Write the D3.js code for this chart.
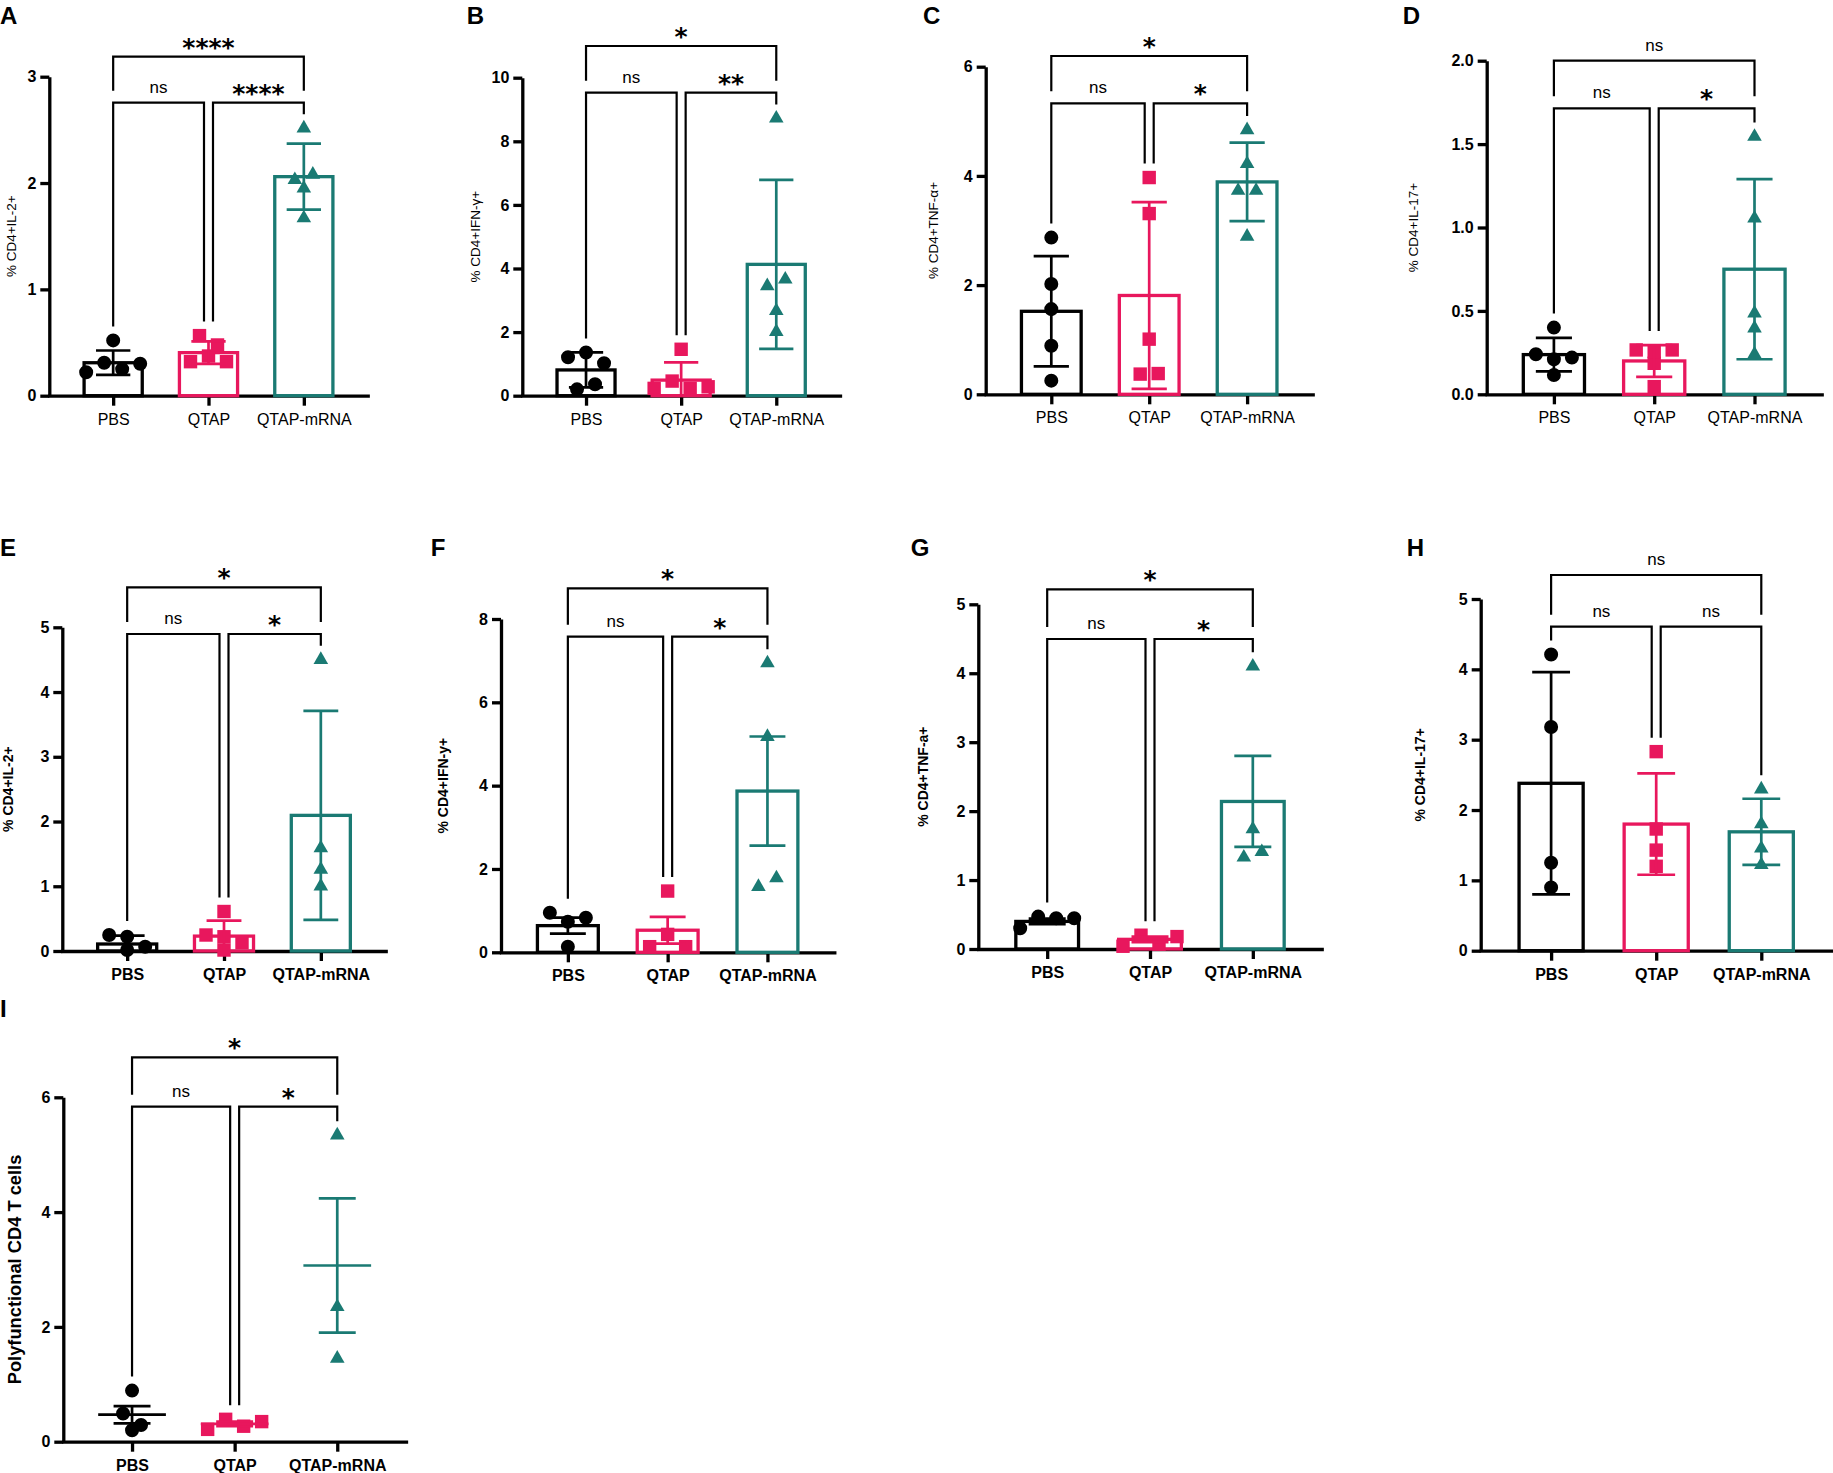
<!DOCTYPE html>
<html>
<head>
<meta charset="utf-8">
<script src="https://cdn.jsdelivr.net/npm/d3@7"></script>
<style>
  body { margin: 0; background: #fff; }
  svg { display: block; }
</style>
</head>
<body>
<script>
// groups + colours
const groups = ["PBS", "QTAP", "QTAP-mRNA"]
const colors = ["#000000", "#e8175d", "#1a7a73"]

// A - % CD4+IL-2+
const ptsA = [[0.52, 0.22, 0.31, 0.25, 0.30], [0.565, 0.32, 0.373, 0.477, 0.32], [2.515, 2.03, 2.08, 1.95, 1.67]]
const meanA = [0.31, 0.405, 2.06]
const errA = [0.115, 0.105, 0.31]
const ticksA = [0, 1, 2, 3]
const sigA = ["****", "ns", "****"]

// B - % CD4+IFN-γ+
const ptsB = [[1.21, 1.36, 1.02, 0.20, 0.36], [1.46, 0.23, 0.46, 0.23, 0.28], [8.72, 3.45, 3.66, 2.67, 2.01]]
const meanB = [0.81, 0.49, 4.13]
const errB = [0.55, 0.56, 2.66]
const ticksB = [0, 2, 4, 6, 8, 10]
const sigB = ["*", "ns", "**"]

// C - % CD4+TNF-α+
const ptsC = [[2.87, 2.02, 1.56, 0.89, 0.25], [3.97, 3.31, 1.01, 0.37, 0.38], [4.84, 4.22, 3.73, 3.73, 2.89]]
const meanC = [1.52, 1.81, 3.89]
const errC = [1.01, 1.71, 0.72]
const ticksC = [0, 2, 4, 6]
const sigC = ["*", "ns", "*"]

// D - % CD4+IL-17+
const ptsD = [[0.40, 0.24, 0.21, 0.22, 0.116], [0.266, 0.186, 0.256, 0.266, 0.046], [1.545, 1.055, 0.486, 0.396, 0.24]]
const meanD = [0.238, 0.20, 0.75]
const errD = [0.10, 0.095, 0.54]
const ticksD = [0, 0.5, 1, 1.5, 2]
const sigD = ["ns", "ns", "*"]

// E - % CD4+IL-2+
const ptsE = [[0.247, 0.22, 0.066, 0.015], [0.61, 0.247, 0.015, 0.22, 0.128], [4.5, 1.59, 1.26, 1.0]]
const meanE = [0.108, 0.23, 2.095]
const errE = [0.128, 0.24, 1.615]
const ticksE = [0, 1, 2, 3, 4, 5]
const sigE = ["*", "ns", "*"]

// F - % CD4+IFN-y+
const ptsF = [[0.95, 0.735, 0.83, 0.135], [1.47, 0.135, 0.43, 0.135], [6.94, 5.175, 1.575, 1.78]]
const meanF = [0.64, 0.53, 3.87]
const errF = [0.19, 0.32, 1.31]
const ticksF = [0, 2, 4, 6, 8]
const sigF = ["*", "ns", "*"]

// G - % CD4+TNF-a+
const ptsG = [[0.30, 0.47, 0.445, 0.445], [0.04, 0.2, 0.07, 0.18], [4.10, 1.74, 1.33, 1.41]]
const meanG = [0.40, 0.14, 2.14]
const errG = [0.04, 0.04, 0.66]
const ticksG = [0, 1, 2, 3, 4, 5]
const sigG = ["*", "ns", "*"]

// H - % CD4+IL-17+
const ptsH = [[4.21, 3.18, 1.25, 0.90], [2.83, 1.73, 1.43, 1.20], [2.295, 1.80, 1.455, 1.22]]
const meanH = [2.38, 1.80, 1.69]
const errH = [1.58, 0.72, 0.47]
const ticksH = [0, 1, 2, 3, 4, 5]
const sigH = ["ns", "ns", "ns"]

// I - polyfunctional (scatter, mean +/- SEM, no bars)
const ptsI = [[0.89, 0.49, 0.29, 0.20], [0.215, 0.39, 0.27, 0.35], [5.34, 2.35, 1.45]]
const meanI = [0.47, 0.31, 3.07]
const errI = [0.15, 0.04, 1.17]
const ticksI = [0, 2, 4, 6]
const sigI = ["*", "ns", "*"]

// layout, pixels
var panels = [
    { letter: "A", lx: 0, ly: 24, x0: 49.3, x1: 367.7, y0: 395.7, yTop: 76.7, b1: 56.7, b2: 102.7, tx: 11.7, row: 1,
      title: "% CD4+IL-2+", pts: ptsA, mean: meanA, err: errA, ticks: ticksA, sig: sigA },
    { letter: "B", lx: 466.7, ly: 24, x0: 522.3, x1: 840, y0: 395.7, yTop: 77.7, b1: 46, b2: 92.7, tx: 475, row: 1,
      title: "% CD4+IFN-γ+", pts: ptsB, mean: meanB, err: errB, ticks: ticksB, sig: sigB },
    { letter: "C", lx: 923, ly: 24, x0: 985.7, x1: 1312.7, y0: 394.3, yTop: 66.7, b1: 56, b2: 103.3, tx: 933.3, row: 1,
      title: "% CD4+TNF-α+", pts: ptsC, mean: meanC, err: errC, ticks: ticksC, sig: sigC },
    { letter: "D", lx: 1402.7, ly: 24, x0: 1486.7, x1: 1821.7, y0: 394.3, yTop: 60.7, b1: 60.7, b2: 108.3, tx: 1413.3, row: 1,
      title: "% CD4+IL-17+", pts: ptsD, mean: meanD, err: errD, ticks: ticksD, sig: sigD, fmt: d3.format(".1f") },
    { letter: "E", lx: 0, ly: 556, x0: 62.3, x1: 385.7, y0: 951, yTop: 627.3, b1: 587.3, b2: 634, tx: 8, row: 2,
      title: "% CD4+IL-2+", pts: ptsE, mean: meanE, err: errE, ticks: ticksE, sig: sigE },
    { letter: "F", lx: 430.7, ly: 556, x0: 501, x1: 834.3, y0: 952.3, yTop: 619, b1: 588.3, b2: 636.7, tx: 443.3, row: 2,
      title: "% CD4+IFN-y+", pts: ptsF, mean: meanF, err: errF, ticks: ticksF, sig: sigF },
    { letter: "G", lx: 910.7, ly: 556, x0: 978.3, x1: 1321.7, y0: 949, yTop: 604.3, b1: 589.3, b2: 639, tx: 922.7, row: 2,
      title: "% CD4+TNF-a+", pts: ptsG, mean: meanG, err: errG, ticks: ticksG, sig: sigG },
    { letter: "H", lx: 1406.7, ly: 556, x0: 1480.7, x1: 1831.7, y0: 950.7, yTop: 599, b1: 575, b2: 626.7, tx: 1420, row: 2,
      title: "% CD4+IL-17+", pts: ptsH, mean: meanH, err: errH, ticks: ticksH, sig: sigH },
    { letter: "I", lx: 0, ly: 1017, x0: 63.3, x1: 406, y0: 1441.7, yTop: 1097.3, b1: 1057.3, b2: 1106.7, tx: 14, row: 2,
      title: "Polyfunctional CD4 T cells", titleSize: 18.3, pts: ptsI, mean: meanI, err: errI, ticks: ticksI, sig: sigI, noBars: true }
]

const FONT = "'Liberation Sans', Arial, sans-serif"
const STAR_FONT = "'DejaVu Sans', sans-serif"

var svg = d3.select("body").append("svg")
    .attr("width", 1833)
    .attr("height", 1473)
    .style("background", "#fff")

var symbols = [d3.symbol(d3.symbolCircle, 154), d3.symbol(d3.symbolSquare, 180), d3.symbol(d3.symbolTriangle, 92)]

// Prism-like scatter spread: points close in y share a row, centred on the column
function spread(vals, y, s, thr) {
    var order = vals.map((v, i) => i).sort((a, b) => vals[b] - vals[a])
    var off = vals.map(() => 0)
    var bins = [], cur = null
    order.forEach((i) => {
        var py = y(vals[i])
        if (cur && py - cur.top <= thr) cur.items.push(i)
        else { cur = { top: py, items: [i] }; bins.push(cur) }
    })
    bins.forEach((b) => {
        b.items.sort((a, c) => a - c)
        var n = b.items.length
        b.items.forEach((i, k) => { off[i] = (k - (n - 1) / 2) * s })
    })
    return off
}

function drawPanel(p) {
    var bold = p.row === 2
    var g = svg.append("g")

    var x = d3.scalePoint().domain(groups).range([p.x0, p.x1]).padding(0.67)
    var y = d3.scaleLinear().domain([0, d3.max(p.ticks)]).range([p.y0, p.yTop])
    var step = x.step()

    // panel letter
    g.append("text")
        .attr("x", p.lx).attr("y", p.ly)
        .attr("font-family", FONT).attr("font-weight", "bold").attr("font-size", 24)
        .text(p.letter)

    // y axis
    var yAxis = g.append("g")
        .attr("transform", "translate(" + p.x0 + ",0)")
        .call(d3.axisLeft(y).tickValues(p.ticks).tickSize(9).tickSizeOuter(0).tickPadding(4)
            .tickFormat(p.fmt || d3.format("d")))
    yAxis.selectAll("path, line").attr("stroke", "#000").attr("stroke-width", 3.3)
    yAxis.selectAll("text")
        .attr("font-family", FONT).attr("font-weight", "bold").attr("font-size", 16).attr("fill", "#000")

    // x axis
    var xAxis = g.append("g")
        .attr("transform", "translate(0," + p.y0 + ")")
        .call(d3.axisBottom(x).tickSize(10).tickSizeOuter(0))
    xAxis.selectAll("path, line").attr("stroke", "#000").attr("stroke-width", 3.3)
    xAxis.selectAll("text")
        .attr("y", 29).attr("dy", 0)
        .attr("font-family", FONT).attr("font-weight", bold ? "bold" : "normal")
        .attr("font-size", 16).attr("fill", "#000")
    xAxis.select(".domain").attr("stroke-linecap", "square")

    // y title
    g.append("text")
        .attr("transform", "translate(" + p.tx + "," + ((p.y0 + p.yTop) / 2) + ") rotate(-90)")
        .attr("text-anchor", "middle").attr("dominant-baseline", "central")
        .attr("font-family", FONT).attr("font-weight", bold ? "bold" : "normal")
        .attr("font-size", p.titleSize || (bold ? 14 : 13.5))
        .text(p.title)

    var rows = groups.map((name, i) => ({
        name: name, i: i, mean: p.mean[i], err: p.err[i], pts: p.pts[i], color: colors[i]
    }))

    // bars
    if (!p.noBars) {
        var bw = step * 0.61
        g.selectAll(".bar").data(rows).enter().append("rect")
            .attr("x", (d) => x(d.name) - bw / 2)
            .attr("y", (d) => y(d.mean))
            .attr("width", bw)
            .attr("height", (d) => y(0) - y(d.mean))
            .attr("fill", "none")
            .attr("stroke", (d) => d.color)
            .attr("stroke-width", 3.3)
    }

    // points
    rows.forEach((d) => {
        var off = spread(d.pts, y, 18, 13)
        g.selectAll(null).data(d.pts).enter().append("path")
            .attr("d", symbols[d.i])
            .attr("transform", (v, k) => "translate(" + (x(d.name) + off[k]) + "," + y(v) + ")")
            .attr("fill", d.color)
    })

    // error bars
    var cap = step * 0.18
    rows.forEach((d) => {
        var lo = Math.max(0, d.mean - d.err), hi = d.mean + d.err
        var cx = x(d.name)
        var eg = g.append("g").attr("stroke", d.color).attr("stroke-width", 2.7).attr("fill", "none")
        eg.append("line").attr("x1", cx).attr("x2", cx).attr("y1", y(lo)).attr("y2", y(hi))
        eg.append("line").attr("x1", cx - cap).attr("x2", cx + cap).attr("y1", y(hi)).attr("y2", y(hi))
        if (d.mean - d.err > 0)
            eg.append("line").attr("x1", cx - cap).attr("x2", cx + cap).attr("y1", y(lo)).attr("y2", y(lo))
        if (p.noBars)
            eg.append("line").attr("x1", cx - step * 0.33).attr("x2", cx + step * 0.33)
                .attr("y1", y(d.mean)).attr("y2", y(d.mean))
    })

    // significance brackets
    var legEnd = rows.map((d) => y(Math.max(d3.max(d.pts), d.mean + d.err)) - 14)
    var xa = x(groups[0]), xb = x(groups[1]), xc = x(groups[2])
    var bg = g.append("g").attr("stroke", "#000").attr("stroke-width", 2.2).attr("fill", "none")
    var legTop = p.b2 - 12
    bg.append("path").attr("d", "M" + xa + "," + legTop + "V" + p.b1 + "H" + xc + "V" + legTop)
    bg.append("path").attr("d", "M" + xa + "," + legEnd[0] + "V" + p.b2 + "H" + (xb - 4.5) + "V" + legEnd[1])
    bg.append("path").attr("d", "M" + (xb + 4.5) + "," + legEnd[1] + "V" + p.b2 + "H" + xc + "V" + legEnd[2])

    var labels = [
        { t: p.sig[0], x: (xa + xc) / 2, y: p.b1 },
        { t: p.sig[1], x: (xa + xb - 4.5) / 2, y: p.b2 },
        { t: p.sig[2], x: (xb + 4.5 + xc) / 2, y: p.b2 }
    ]
    g.selectAll(".sig").data(labels).enter().append("text")
        .attr("x", (d) => d.x)
        .attr("y", (d) => d.t === "ns" ? d.y - 10 : d.y - 1)
        .attr("text-anchor", "middle")
        .attr("font-family", (d) => d.t === "ns" ? FONT : STAR_FONT)
        .attr("font-weight", (d) => d.t === "ns" ? "normal" : "bold")
        .attr("font-size", (d) => d.t === "ns" ? 17 : 25)
        .text((d) => d.t)
}

panels.forEach(drawPanel)
</script>
</body>
</html>
